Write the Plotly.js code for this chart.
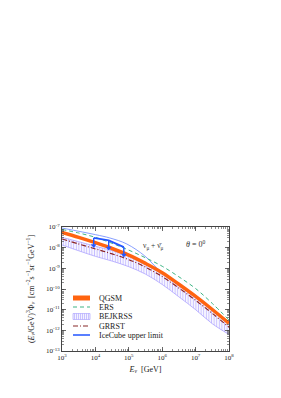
<!DOCTYPE html>
<html><head><meta charset="utf-8">
<script src="https://cdn.plot.ly/plotly-3.0.1.min.js"></script>
<style>html,body{margin:0;padding:0;background:#fff;} #chart{width:281px;height:398px;}</style>
</head><body><div id="chart"></div>
<script>
// Energies (GeV)
const energyGrid = [1e3, 3.16e3, 1e4, 3.16e4, 1e5, 3.16e5, 1e6, 3.16e6, 1e7, 3.16e7, 1e8];
// (E/GeV)^3 * flux values
const qgsm      = [5.50e-8, 3.16e-8, 1.74e-8, 9.12e-9, 4.37e-9, 1.74e-9, 6.17e-10, 1.70e-10, 4.37e-11, 1.02e-11, 2.19e-12];
const ers       = [7.59e-8, 5.13e-8, 3.16e-8, 1.62e-8, 7.59e-9, 3.24e-9, 1.26e-9, 3.89e-10, 1.05e-10, 2.00e-11, 3.16e-12];
const bejkrssUp = [3.16e-8, 1.95e-8, 1.17e-8, 7.24e-9, 3.80e-9, 1.58e-9, 5.37e-10, 1.51e-10, 3.80e-11, 9.55e-12, 2.09e-12];
const bejkrssLo = [1.35e-8, 7.08e-9, 3.80e-9, 2.24e-9, 1.20e-9, 5.25e-10, 1.66e-10, 4.17e-11, 1.00e-11, 2.09e-12, 6.31e-13];
const grrst     = [2.63e-8, 1.51e-8, 8.71e-9, 5.01e-9, 2.63e-9, 1.15e-9, 3.98e-10, 1.12e-10, 2.82e-11, 6.61e-12, 1.41e-12];
// thin blue curve
const thinBlueE = [1e3, 1e4, 2.7e4, 8.7e4, 3e5, 6.9e5, 1.6e6];
const thinBlue  = [8.91e-8, 4.27e-8, 2.95e-8, 1.51e-8, 3.98e-9, 1.05e-9, 3.47e-10];
// IceCube upper limit
const iceE      = [8.9e3, 2.5e4, 7.1e4];
const iceLimit  = [2.95e-8, 2.24e-8, 1.07e-8];
const iceArrow  = [1.26e-8, 9.55e-9, 4.47e-9];

const xTickVals = [1e3, 1e4, 1e5, 1e6, 1e7, 1e8];
const xTickText = ['10<sup>3</sup>', '10<sup>4</sup>', '10<sup>5</sup>', '10<sup>6</sup>', '10<sup>7</sup>', '10<sup>8</sup>'];
const yTickVals = [1e-13, 1e-12, 1e-11, 1e-10, 1e-9, 1e-8, 1e-7];
const yTickText = ['10<sup>-13</sup>', '10<sup>-12</sup>', '10<sup>-11</sup>', '10<sup>-10</sup>', '10<sup>-9</sup>', '10<sup>-8</sup>', '10<sup>-7</sup>'];

const FONT = 'Liberation Serif, Times New Roman, serif';

const arrowX = [], arrowY = [];
iceE.forEach((e, i) => { arrowX.push(e, e, null); arrowY.push(iceLimit[i], iceArrow[i], null); });

const traces = [
  {x: energyGrid, y: bejkrssLo, type: 'scatter', mode: 'lines', name: 'BEJKRSS lower',
   line: {color: '#a398ff', width: 0.7, shape: 'spline'}, showlegend: false},
  {x: energyGrid, y: bejkrssUp, type: 'scatter', mode: 'lines', name: 'BEJKRSS',
   line: {color: '#a398ff', width: 0.7, shape: 'spline'}, fill: 'tonexty', fillcolor: 'rgba(238,236,255,0.5)',
   fillpattern: {shape: '|', fgcolor: '#ab9fff', bgcolor: 'rgba(242,240,255,0.6)', size: 2.6, solidity: 0.22}},
  {x: thinBlueE, y: thinBlue, type: 'scatter', mode: 'lines', name: 'thin',
   line: {color: '#6a86ff', width: 0.8, shape: 'spline'}, showlegend: false},
  {x: energyGrid, y: ers, type: 'scatter', mode: 'lines', name: 'ERS',
   line: {color: '#3fb585', width: 1, dash: '4px,3px', shape: 'spline'}},
  {x: energyGrid, y: qgsm, type: 'scatter', mode: 'lines', name: 'QGSM',
   line: {color: '#ff6410', width: 3.5, shape: 'spline'}},
  {x: energyGrid, y: grrst, type: 'scatter', mode: 'lines', name: 'GRRST',
   line: {color: '#8a2222', width: 1.1, dash: '5px,2px,1px,2px', shape: 'spline'}},
  {x: iceE, y: iceLimit, type: 'scatter', mode: 'lines', name: 'IceCube upper limit',
   line: {color: '#2255ff', width: 1.8}},
  {x: arrowX, y: arrowY, type: 'scatter', mode: 'lines', showlegend: false,
   line: {color: '#2255ff', width: 1.4}},
  {x: iceE, y: iceArrow, type: 'scatter', mode: 'markers', showlegend: false,
   marker: {symbol: 'triangle-down', size: 5, color: '#2255ff'}}
];

// custom legend
const L = 62, R = 229, T = 227, B = 351;
const px = v => (v - L) / (R - L);
const py = v => (B - v) / (B - T);
const legendRows = [
  {name: 'QGSM', y: 298},
  {name: 'ERS', y: 307},
  {name: 'BEJKRSS', y: 316.5},
  {name: 'GRRST', y: 326},
  {name: 'IceCube upper limit', y: 335}
];
const shapes = [];
const annotations = [];
const sx0 = px(73), sx1 = px(90);
shapes.push({type: 'rect', xref: 'paper', yref: 'paper', x0: sx0, x1: sx1, y0: py(300.5), y1: py(295.5),
  fillcolor: '#ff6410', line: {width: 0}});
shapes.push({type: 'line', xref: 'paper', yref: 'paper', x0: sx0, x1: sx1, y0: py(307), y1: py(307),
  line: {color: '#3fb585', width: 1, dash: '4px,3px'}});
shapes.push({type: 'rect', xref: 'paper', yref: 'paper', x0: sx0, x1: sx1, y0: py(319.5), y1: py(313.5),
  fillcolor: 'rgba(238,236,255,0.7)', line: {color: '#a398ff', width: 0.6}});
for (let xx = 74.5; xx < 90; xx += 2) {
  shapes.push({type: 'line', xref: 'paper', yref: 'paper', x0: px(xx), x1: px(xx), y0: py(319.5), y1: py(313.5),
    line: {color: '#ab9fff', width: 0.6}});
}
shapes.push({type: 'line', xref: 'paper', yref: 'paper', x0: sx0, x1: sx1, y0: py(326), y1: py(326),
  line: {color: '#b07070', width: 1.5, dash: '5px,2px,1px,2px'}});
shapes.push({type: 'line', xref: 'paper', yref: 'paper', x0: sx0, x1: sx1, y0: py(335), y1: py(335),
  line: {color: '#2255ff', width: 1.5}});
legendRows.forEach(r => annotations.push({xref: 'paper', yref: 'paper', x: px(97), y: py(r.y),
  xanchor: 'left', yanchor: 'middle', text: r.name, showarrow: false, font: {family: FONT, size: 8, color: '#222'}}));

annotations.push({xref: 'paper', yref: 'paper', x: px(153), y: py(239), text: 'ν<sub>μ</sub> + ν̄<sub>μ</sub>',
  showarrow: false, font: {family: FONT, size: 7.5, color: '#333'}});
annotations.push({xref: 'paper', yref: 'paper', x: px(207), y: py(236.5), text: '<i>θ</i> = 0<sup>0</sup>',
  showarrow: false, font: {family: FONT, size: 8, color: '#333'}});

const axisCommon = {
  type: 'log', showgrid: false, zeroline: false, showline: true, linecolor: '#444', linewidth: 1,
  mirror: 'allticks', ticks: 'inside', ticklen: 4, tickcolor: '#444', tickwidth: 0.8,
  tickfont: {family: FONT, size: 7, color: '#222'},
  minor: {dtick: 'D1', ticks: 'inside', ticklen: 2, tickcolor: '#444', tickwidth: 0.6, showgrid: false}
};

const layout = {
  width: 281, height: 398,
  margin: {l: L, r: 281 - R, t: T, b: 398 - B, pad: 0},
  paper_bgcolor: '#fff', plot_bgcolor: '#fff',
  showlegend: false,
  font: {family: FONT, color: '#222'},
  xaxis: Object.assign({}, axisCommon, {range: [3, 8], tickmode: 'array', tickvals: xTickVals, ticktext: xTickText,
    title: {text: '<i>E</i><sub><i>ν</i></sub>  [GeV]', font: {family: FONT, size: 8}, standoff: 4}}),
  yaxis: Object.assign({}, axisCommon, {range: [-13, -7], tickmode: 'array', tickvals: yTickVals, ticktext: yTickText,
    title: {text: '(<i>E</i><sub><i>ν</i></sub>/GeV)<sup>3</sup>Φ<sub><i>ν</i></sub>  [cm<sup>−2</sup>s<sup>−1</sup>sr<sup>−1</sup>GeV<sup>−1</sup>]',
      font: {family: FONT, size: 8}, standoff: 10}}),
  shapes: shapes,
  annotations: annotations
};

Plotly.newPlot('chart', traces, layout, {displayModeBar: false, staticPlot: true});
</script>
</body></html>
